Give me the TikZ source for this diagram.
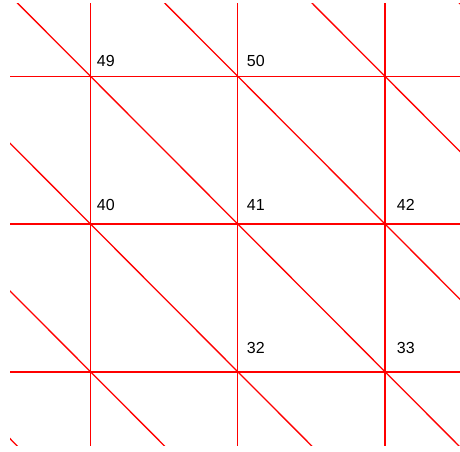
\documentclass[tikz,border=0pt]{standalone}
\usepackage{fontspec}
\setmainfont{Liberation Sans}
\usetikzlibrary{positioning}

\begin{document}
\begin{tikzpicture}[
        x=1pt, y=-1pt,                 % pixel units, y grows downwards
        gridline/.style={
            draw=red,
            line width=1.6pt
        },
        thinline/.style={
            gridline,
            line width=1pt
        },
        numlabel/.style={
            anchor=base west,
            inner sep=0pt,
            font=\fontsize{16}{18}\selectfont
        }
    ]
    \useasboundingbox (0,0) rectangle (460,451);

    % --- MESH POINTS ---
    \foreach \i in {0,...,4}
        \foreach \j in {0,...,4}
            \coordinate (p\i\j) at ({90.5+147.25*(\i-1)}, {76.3+147.7*(\j-1)});

    % --- MESH LINES ---
    \begin{scope}
        \clip (10,3) rectangle (460,445);
        \foreach \k in {1,2,3}
            \draw[gridline] (p0\k) -- (p4\k);
        \draw[gridline] (p10) -- (p14);
        \draw[thinline] (p20) -- (p24);
        \draw[gridline] (p30) -- (p34);
        \foreach \i/\ii in {0/1,1/2,2/3,3/4}
            \foreach \j/\jj in {0/1,1/2,2/3,3/4}
                \draw[gridline, line width=1.3pt] (p\i\j) -- (p\ii\jj);
    \end{scope}

    % --- NODE NUMBERS ---
    \node[numlabel] (n49) at (96.7,66.7) {49};
    \node[numlabel] (n50) at (246.7,66.7) {50};
    \node[numlabel] (n40) at (96.7,210) {40};
    \node[numlabel] (n41) at (246.7,210) {41};
    \node[numlabel] (n42) at (396.7,210) {42};
    \node[numlabel] (n32) at (246.7,353.3) {32};
    \node[numlabel] (n33) at (396.7,353.3) {33};
\end{tikzpicture}
\end{document}
